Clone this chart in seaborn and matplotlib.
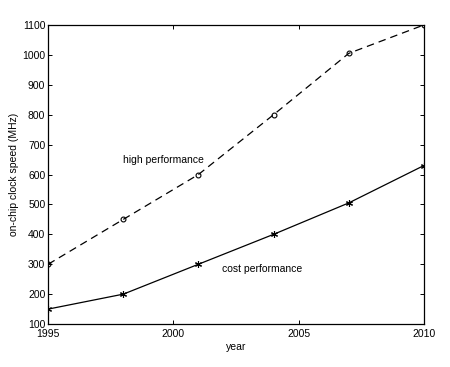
import matplotlib
matplotlib.use('Agg')
import matplotlib.pyplot as plt
import seaborn as sns
import pandas as pd

years = [1995, 1998, 2001, 2004, 2007, 2010]
high_perf = [300, 450, 600, 800, 1005, 1100]
cost_perf = [150, 200, 300, 400, 505, 630]
x_ticks = [1995, 2000, 2005, 2010]
y_ticks = list(range(100, 1101, 100))

sns.set_theme(style='ticks')
plt.rcParams['font.family'] = ['Liberation Sans', 'DejaVu Sans']
plt.rcParams['text.color'] = 'black'
plt.rcParams['axes.labelcolor'] = 'black'
plt.rcParams['xtick.color'] = 'black'
plt.rcParams['ytick.color'] = 'black'

df = pd.DataFrame({'year': years, 'high': high_perf, 'cost': cost_perf})

fig = plt.figure(figsize=(4.5, 3.67), dpi=100)
ax = fig.add_axes([0.107, 0.117, 0.835, 0.815])

sns.lineplot(data=df, x='year', y='high', ax=ax, color='black', linewidth=0.9,
             marker='o', markersize=3.5, markerfacecolor='none',
             markeredgecolor='black', markeredgewidth=0.8)
ax.lines[-1].set_dashes([6, 4])
sns.lineplot(data=df, x='year', y='cost', ax=ax, color='black', linewidth=0.9,
             marker=(6, 2, 0), markersize=5, markeredgewidth=0.8,
             markeredgecolor='black')

ax.text(1998.0, 648, 'high performance', fontsize=7.5, va='center', ha='left')
ax.text(2001.95, 284, 'cost performance', fontsize=7.5, va='center', ha='left')

ax.set_xlim(1995, 2010)
ax.set_ylim(100, 1100)
ax.set_xticks(x_ticks)
ax.set_yticks(y_ticks)
ax.set_xlabel('year', fontsize=7.5, labelpad=2)
ax.set_ylabel('on-chip clock speed (MHz)', fontsize=7.5, labelpad=2)
ax.tick_params(direction='in', length=3, width=0.7, labelsize=7.5,
               top=True, right=True)
ax.tick_params(axis='x', pad=3.5)
ax.tick_params(axis='y', pad=2)
for s in ax.spines.values():
    s.set_linewidth(0.9)
    s.set_color('black')

fig.savefig('out.png', dpi=100, facecolor='white')
